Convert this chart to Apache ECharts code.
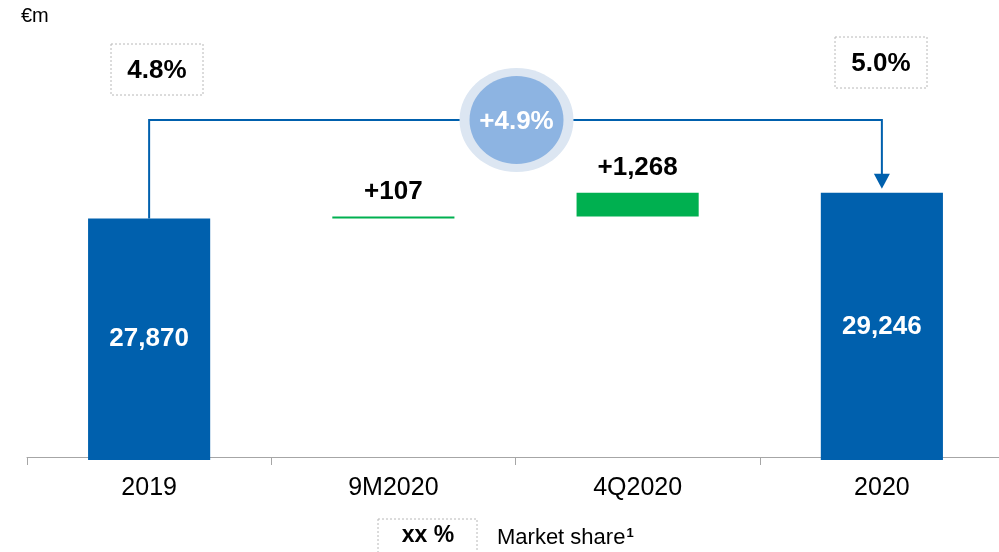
<!DOCTYPE html>
<html>
<head>
<meta charset="utf-8">
<script src="https://cdn.jsdelivr.net/npm/echarts@6/dist/echarts.min.js"></script>
<style>
  html, body { margin: 0; padding: 0; background: #fff; overflow: hidden; }
  #chart { width: 1004px; height: 552px; }
</style>
</head>
<body>
<div id="chart"></div>
<script>
  // data
  const categories = ['2019', '9M2020', '4Q2020', '2020']
  const amounts = [27870, 107, 1268, 29246]
  const isTotal = [true, false, false, true]
  const shares = ['4.8%', '5.0%']
  const growth = '+4.9%'

  const blue = '#0060ad'
  const green = '#00b050'
  const font = '"Liberation Sans", Arial, sans-serif'

  // invisible base for the waterfall steps
  let running = 0
  const bases = amounts.map((v, i) => {
    if (isTotal[i]) { running = v; return 0 }
    const b = running
    running += v
    return b
  })

  const fmt = v => v.toLocaleString('en-US')

  // the plot runs a few px past the right edge of the window, so the div is wider
  const chart = echarts.init(document.getElementById('chart'))
  chart.setOption({
    animation: false,
    textStyle: { fontFamily: font },
    grid: { left: 27, right: 0, top: 66, bottom: 92 },
    xAxis: {
      type: 'category',
      data: categories,
      offset: -3,
      axisLine: { lineStyle: { color: '#a6a6a6', width: 1 } },
      axisTick: { show: true, length: 8, lineStyle: { color: '#a6a6a6' } },
      axisLabel: { color: '#000', fontSize: 25, margin: 19, fontFamily: font }
    },
    yAxis: {
      type: 'value',
      min: 15000,
      max: 36000,
      show: false,
      splitLine: { show: false }
    },
    series: [
      {
        type: 'bar',
        stack: 'wf',
        data: bases,
        barWidth: '50%',
        itemStyle: { color: 'transparent' },
        silent: true
      },
      {
        type: 'bar',
        stack: 'wf',
        barWidth: '50%',
        data: amounts.map((v, i) => ({
          value: v,
          itemStyle: { color: isTotal[i] ? blue : green },
          label: isTotal[i]
            ? { show: true, position: 'inside', color: '#fff', fontSize: 26, fontWeight: 'bold', formatter: fmt(v) }
            : { show: true, position: 'top', distance: 12, color: '#000', fontSize: 26, fontWeight: 'bold', formatter: '+' + fmt(v) }
        }))
      }
    ]
  })

  // connector line, growth bubble and market share boxes
  const left = chart.convertToPixel({ seriesIndex: 1 }, [0, amounts[0]])
  const right = chart.convertToPixel({ seriesIndex: 1 }, [3, amounts[3]])
  const lineY = 120
  const midX = (left[0] + right[0]) / 2 + 1

  const shareBox = (cx, cy, text) => ({
    type: 'group',
    children: [
      {
        type: 'rect',
        shape: { x: cx - 46, y: cy - 26, width: 92, height: 51 },
        style: { fill: '#fff', stroke: '#b8b8b8', lineWidth: 1, lineDash: [2, 2] }
      },
      {
        type: 'text',
        style: { x: cx, y: cy + 1, text: text, align: 'center', verticalAlign: 'middle', fontSize: 26, fontWeight: 'bold', fill: '#000', fontFamily: font }
      }
    ]
  })

  chart.setOption({
    graphic: [
      {
        type: 'text',
        style: { x: 21, y: 16, text: '€m', verticalAlign: 'middle', fontSize: 20, fill: '#000', fontFamily: font }
      },
      {
        type: 'polyline',
        shape: { points: [[left[0], left[1]], [left[0], lineY], [right[0], lineY], [right[0], right[1] - 18]] },
        style: { stroke: blue, lineWidth: 2, fill: null }
      },
      {
        type: 'polygon',
        shape: { points: [[right[0] - 8, right[1] - 19], [right[0] + 8, right[1] - 19], [right[0], right[1] - 4]] },
        style: { fill: blue }
      },
      {
        type: 'ellipse',
        shape: { cx: midX, cy: lineY, rx: 57, ry: 52 },
        style: { fill: '#dce6f2' }
      },
      {
        type: 'ellipse',
        shape: { cx: midX, cy: lineY, rx: 47, ry: 44 },
        style: { fill: '#8db4e2' }
      },
      {
        type: 'text',
        style: { x: midX, y: lineY + 2, text: growth, align: 'center', verticalAlign: 'middle', fontSize: 26, fontWeight: 'bold', fill: '#fff', fontFamily: font }
      },
      shareBox(157, 70, shares[0]),
      shareBox(881, 63, shares[1]),
      {
        type: 'rect',
        shape: { x: 378, y: 519, width: 99, height: 40 },
        style: { fill: '#fff', stroke: '#b8b8b8', lineWidth: 1, lineDash: [2, 2] }
      },
      {
        type: 'text',
        style: { x: 428, y: 536, text: 'xx %', align: 'center', verticalAlign: 'middle', fontSize: 23, fontWeight: 'bold', fill: '#000', fontFamily: font }
      },
      {
        type: 'text',
        style: {
          x: 497, y: 538, verticalAlign: 'middle', fill: '#000', fontFamily: font,
          text: '{a|Market share}{b|1}',
          rich: {
            a: { fontSize: 22, fontFamily: font, fill: '#000' },
            b: { fontSize: 13, fontWeight: 'bold', fontFamily: font, fill: '#000', verticalAlign: 'top', padding: [0, 0, 10, 1] }
          }
        }
      }
    ]
  })
</script>
</body>
</html>
